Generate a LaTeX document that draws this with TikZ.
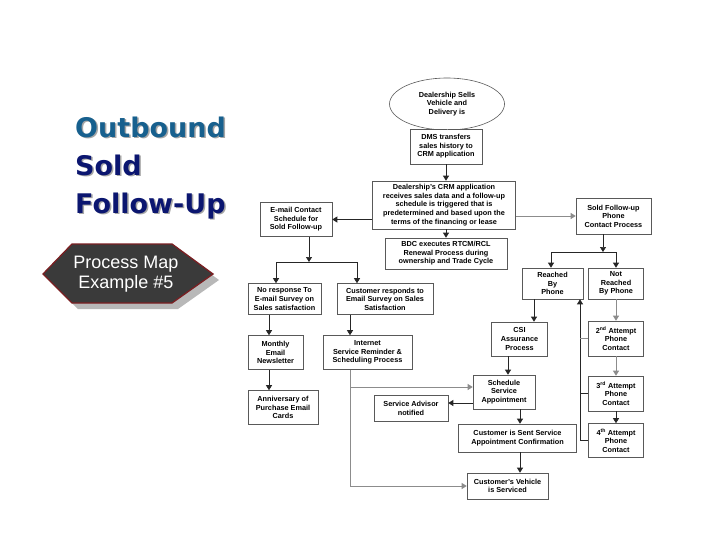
\documentclass[tikz,border=0pt]{standalone}
\usepackage{fontspec}
\setmainfont{Liberation Sans}
\newfontfamily\titlefont{DejaVu Sans}
\usetikzlibrary{shapes.geometric,arrows.meta}
\definecolor{tblue}{HTML}{17608E}
\definecolor{tnavy}{HTML}{0B1670}
\definecolor{hexfill}{HTML}{3A3A3A}
\definecolor{hexedge}{HTML}{7A1F22}
\begin{document}
\begin{tikzpicture}[x=1pt,y=-1pt,
  box/.style={draw=black!65,line width=0.6pt,fill=white,inner sep=0pt,align=center,
    font=\fontsize{7.3}{8.6}\selectfont\bfseries},
  conn/.style={black!85,line width=0.7pt},
  gconn/.style={black!45,line width=0.7pt},
  arr/.style={-{Triangle[width=6pt,length=5pt]}},
  ttl/.style={anchor=base west,inner sep=0pt,font=\titlefont\fontsize{27}{27}\selectfont\bfseries},
]
\useasboundingbox (0,0) rectangle (728,546);
\fill[white] (0,0) rectangle (728,546);

% title
\node[ttl,text=black!35] at (76.5,138.5) {Outbound};
\node[ttl,text=tblue] (t1) at (75,137) {Outbound};
\node[ttl,text=black!35] at (76.5,176.5) {Sold};
\node[ttl,text=tnavy] (t2) at (75,175) {Sold};
\node[ttl,text=black!35] at (76.5,214.5) {Follow-Up};
\node[ttl,text=tnavy] (t3) at (75,213) {Follow-Up};

% hexagon badge
\fill[black!28] (49,280) -- (78,250) -- (178,250) -- (219,280) -- (178,309) -- (78,309) -- cycle;
\filldraw[fill=hexfill,draw=hexedge,line width=1.3pt] (43,274) -- (72,244) -- (172,244) -- (213,274) -- (172,303) -- (72,303) -- cycle;
\node[text=white,align=center,inner sep=0pt,font=\fontsize{18}{20}\selectfont] (hx) at (126,274) {Process Map\\Example \#5};

% nodes
\node[box,ellipse,minimum width=115,minimum height=52] (ell) at (447,104) {Dealership Sells\\Vehicle and\\Delivery is};
\node[box,minimum width=72,minimum height=35] (dms) at (446,146.5) {DMS transfers\\sales history to\\CRM application};
\node[box,minimum width=143,minimum height=48] (crm) at (444,205) {Dealership's CRM application\\receives sales data and a follow-up\\schedule is triggered that is\\predetermined and based upon the\\terms of the financing or lease};
\node[box,minimum width=122,minimum height=31] (bdc) at (446,253.5) {BDC executes RTCM/RCL\\Renewal Process during\\ownership and Trade Cycle};
\node[box,minimum width=72,minimum height=34] (email) at (296,219.5) {E-mail Contact\\Schedule for\\Sold Follow-up};
\node[box,minimum width=75,minimum height=36] (sfu) at (613.5,216) {Sold Follow-up\\Phone\\Contact Process};
\node[box,minimum width=73,minimum height=31] (noresp) at (284.5,299) {No response To\\E-mail Survey on\\Sales satisfaction};
\node[box,minimum width=96,minimum height=31] (cresp) at (385,299) {Customer responds to\\Email Survey on Sales\\Satisfaction};
\node[box,minimum width=55,minimum height=34] (month) at (275.5,352.5) {Monthly\\Email\\Newsletter};
\node[box,minimum width=89,minimum height=34] (inet) at (367.5,352.5) {Internet\\Service Reminder \&\\Scheduling Process};
\node[box,minimum width=70,minimum height=34] (anniv) at (283,407.5) {Anniversary of\\Purchase Email\\Cards};
\node[box,minimum width=74,minimum height=26] (adv) at (411,408.5) {Service Advisor\\notified};
\node[box,minimum width=62,minimum height=34] (sched) at (504,392) {Schedule\\Service\\Appointment};
\node[box,minimum width=56,minimum height=34] (csi) at (519.5,339) {CSI\\Assurance\\Process};
\node[box,minimum width=118,minimum height=28] (conf) at (517.5,438) {Customer is Sent Service\\Appointment Confirmation};
\node[box,minimum width=81,minimum height=26] (veh) at (507.5,486) {Customer's Vehicle\\is Serviced};
\node[box,minimum width=61,minimum height=31] (reach) at (552.5,283.5) {Reached\\By\\Phone};
\node[box,minimum width=55,minimum height=31] (nreach) at (616,283.5) {Not\\Reached\\By Phone};
\node[box,minimum width=55,minimum height=35] (a2) at (616,338.5) {2\textsuperscript{nd} Attempt\\Phone\\Contact};
\node[box,minimum width=55,minimum height=35] (a3) at (616,393.5) {3\textsuperscript{rd} Attempt\\Phone\\Contact};
\node[box,minimum width=55,minimum height=34] (a4) at (616,440.5) {4\textsuperscript{th} Attempt\\Phone\\Contact};

% junction coordinates
\coordinate (ej) at (309,262);
\coordinate (ejl) at (276,262);
\coordinate (ejr) at (357,262);
\coordinate (sj) at (603,252);
\coordinate (sjl) at (551,252);
\coordinate (sjr) at (616,252);
\coordinate (lp) at (580,440.5);
\coordinate (ij1) at (350,387);
\coordinate (ij2) at (350,486);

% connectors
\draw[gconn] (ell.south) -- (ell.south |- dms.north);
\draw[conn,arr] (dms.south) -- (dms.south |- crm.north);
\draw[conn,arr] (crm.south -| bdc.north) -- (bdc.north);
\draw[conn,arr] (crm.west |- email.east) -- (email.east);
\draw[gconn,arr] (crm.east |- sfu.west) -- (sfu.west);

\draw[conn,arr] (email.south -| ej) -- (ej);
\draw[conn] (ejl) -- (ejr);
\draw[conn,arr] (ejl) -- (ejl |- noresp.north);
\draw[conn,arr] (ejr) -- (ejr |- cresp.north);

\draw[conn,arr] (sfu.south -| sj) -- (sj);
\draw[conn] (sjl) -- (sjr);
\draw[conn,arr] (sjl) -- (sjl |- reach.north);
\draw[conn,arr] (sjr) -- (nreach.north);

\draw[conn,arr] (noresp.south -| 269,0) -- (month.north -| 269,0);
\draw[conn,arr] (month.south -| 269,0) -- (anniv.north -| 269,0);
\draw[conn,arr] (cresp.south -| ij1) -- (inet.north -| ij1);
\draw[gconn] (inet.south -| ij1) -- (ij2);
\draw[gconn,arr] (ij1) -- (sched.west |- ij1);
\draw[gconn,arr] (ij2) -- (veh.west |- ij2);

\draw[conn,arr] (reach.south -| 534,0) -- (csi.north -| 534,0);
\draw[conn,arr] (csi.south -| 508,0) -- (sched.north -| 508,0);
\draw[conn,arr] (sched.west |- 0,403) -- (adv.east |- 0,403);
\draw[conn,arr] (sched.south -| 520,0) -- (conf.north -| 520,0);
\draw[conn,arr] (conf.south -| 520,0) -- (veh.north -| 520,0);

\draw[gconn,arr] (nreach.south) -- (a2.north);
\draw[gconn,arr] (a2.south) -- (a3.north);
\draw[conn,arr] (a3.south) -- (a4.north);
\draw[conn] (a4.west) -- (lp);
\draw[conn,arr] (lp) -- (lp |- reach.south);
\draw[gconn] (a2.west) -- (a2.west -| lp);
\draw[conn] (a3.west) -- (a3.west -| lp);
\end{tikzpicture}
\end{document}
